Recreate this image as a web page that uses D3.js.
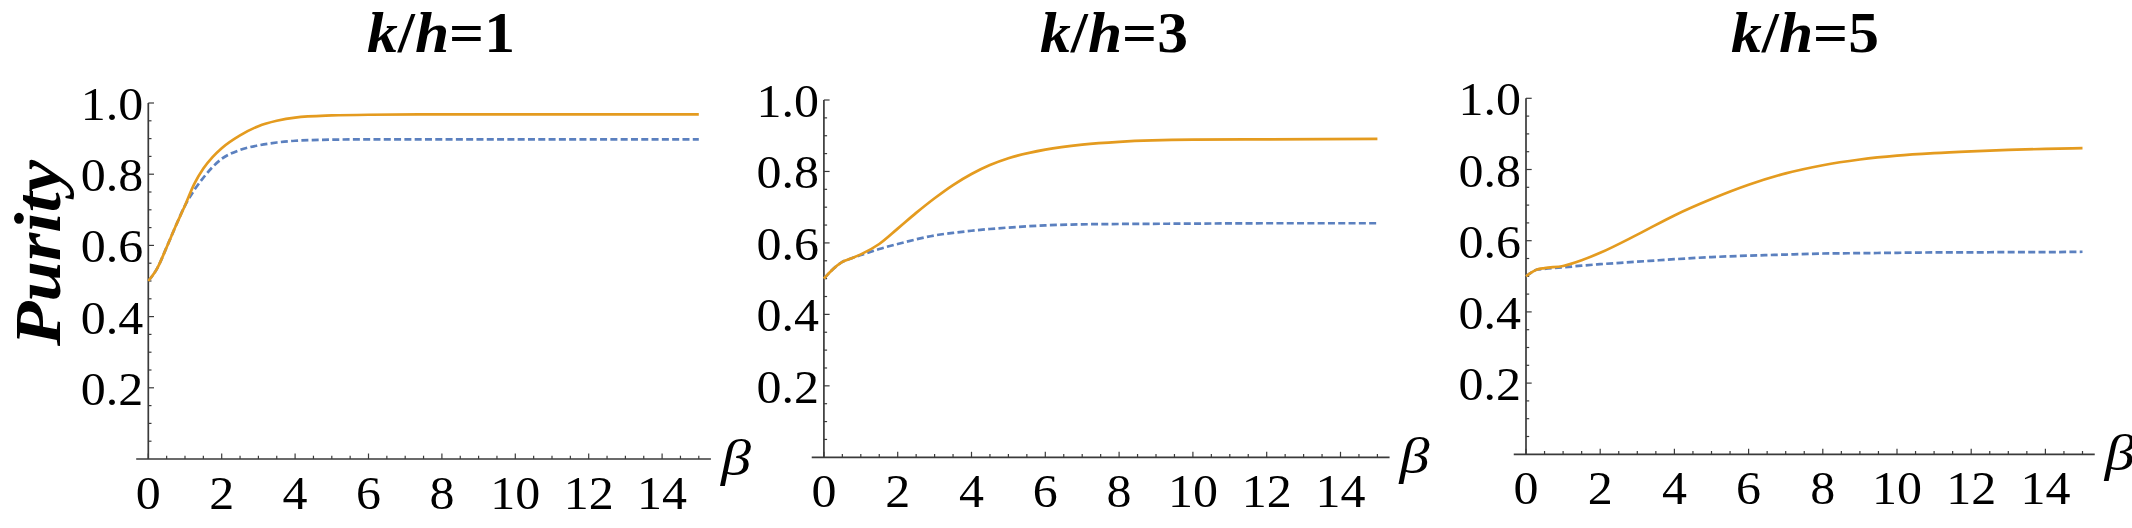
<!DOCTYPE html>
<html>
<head>
<meta charset="utf-8">
<script src="https://cdn.jsdelivr.net/npm/d3@7"></script>
<style>
  body { margin: 0; background: #fff; }
  svg { display: block; }
</style>
</head>
<body>
<svg id="chart" width="2132" height="528"></svg>
<script>
// k/h value of each panel
var khValues = [1, 3, 5];

var betaTicks = [0, 2, 4, 6, 8, 10, 12, 14];
var purityTicks = [0.2, 0.4, 0.6, 0.8, 1.0];

// k/h = 1
var betaK1 = [0, 0.25, 0.5, 0.75, 1, 1.25, 1.5, 1.75, 2, 2.5, 3, 3.5, 4, 5, 6, 8, 10, 12, 15];
var solidK1 = [0.5, 0.537, 0.595, 0.655, 0.712, 0.772, 0.816, 0.848, 0.873, 0.909, 0.935, 0.950, 0.959, 0.965, 0.967, 0.968, 0.968, 0.968, 0.968];
var dashedK1 = [0.5, 0.537, 0.595, 0.655, 0.712, 0.755, 0.790, 0.820, 0.843, 0.868, 0.881, 0.889, 0.894, 0.897, 0.898, 0.898, 0.898, 0.898, 0.898];

// k/h = 3
var betaK3 = [0, 0.25, 0.5, 0.75, 1, 1.5, 2, 2.5, 3, 3.5, 4, 4.5, 5, 6, 7, 8, 10, 12, 15];
var solidK3 = [0.5, 0.527, 0.547, 0.557, 0.568, 0.597, 0.640, 0.684, 0.725, 0.762, 0.793, 0.818, 0.837, 0.861, 0.875, 0.883, 0.889, 0.890, 0.891];
var dashedK3 = [0.5, 0.527, 0.547, 0.557, 0.566, 0.583, 0.597, 0.610, 0.621, 0.628, 0.634, 0.639, 0.643, 0.649, 0.652, 0.653, 0.654, 0.655, 0.655];

// k/h = 5
var betaK5 = [0, 0.15, 0.3, 0.5, 1, 1.5, 2, 3, 4, 5, 6, 7, 8, 9, 10, 11, 12, 13, 14, 15];
var solidK5 = [0.5, 0.511, 0.519, 0.523, 0.529, 0.545, 0.566, 0.617, 0.671, 0.717, 0.757, 0.789, 0.812, 0.828, 0.839, 0.846, 0.851, 0.855, 0.858, 0.860];
var dashedK5 = [0.5, 0.511, 0.519, 0.521, 0.525, 0.530, 0.534, 0.541, 0.548, 0.554, 0.558, 0.561, 0.564, 0.565, 0.566, 0.567, 0.567, 0.568, 0.568, 0.569];

var series = [
  { beta: betaK1, solid: solidK1, dashed: dashedK1 },
  { beta: betaK3, solid: solidK3, dashed: dashedK3 },
  { beta: betaK5, solid: solidK5, dashed: dashedK5 }
];

// panel frames (pixel layout)
var panels = [
  { x0: 148.3, x15: 698.8, y0: 459, y1: 103, titleX: 441 },
  { x0: 823.9, x15: 1377.4, y0: 457.3, y1: 100, titleX: 1114 },
  { x0: 1526, x15: 2082.5, y0: 454.3, y1: 98.3, titleX: 1805 }
];

var orange = "#E49B1F";
var blue = "#5B80BF";
var axisColor = "#3a3a3a";

// find a serif face that is really installed
function hasFont(name) {
  var ctx = document.createElement("canvas").getContext("2d");
  var probe = "mmmwwwiiilll0123456789";
  return ["monospace", "sans-serif"].some(function (base) {
    ctx.font = "40px " + base;
    var w0 = ctx.measureText(probe).width;
    ctx.font = "40px '" + name + "', " + base;
    return ctx.measureText(probe).width !== w0;
  });
}
var serifCandidates = ["Liberation Serif", "Tinos", "Times New Roman", "Times", "Nimbus Roman",
  "Nimbus Roman No9 L", "FreeSerif", "DejaVu Serif", "Noto Serif", "Noto Serif CJK SC", "Source Serif Pro", "Georgia"];
var serifFont = serifCandidates.find(hasFont);
var fontStack = (serifFont ? "'" + serifFont + "', " : "") + "serif";

// serif digits are ~half an em wide; force that width whatever face is found
function labelWidth(s, size) {
  var w = 0;
  for (var c of s) w += (c === "." ? 0.25 : 0.5) * size;
  return w;
}

var svg = d3.select("#chart").style("font-family", fontStack);
svg.append("rect").attr("width", 2132).attr("height", 528).attr("fill", "#fff");

// y-axis title
svg.append("text")
  .attr("transform", "translate(60,253) rotate(-90)")
  .attr("text-anchor", "middle")
  .attr("textLength", 186)
  .attr("lengthAdjust", "spacingAndGlyphs")
  .style("font-size", "65px")
  .style("font-weight", "bold")
  .style("font-style", "italic")
  .text("Purity");

panels.forEach(function (p, i) {
  var xScale = d3.scaleLinear().domain([0, 15]).range([p.x0, p.x15]);
  var yScale = d3.scaleLinear().domain([0, 1]).range([p.y0, p.y1]);
  var g = svg.append("g");

  // title
  var t = g.append("text")
    .attr("x", p.titleX)
    .attr("y", 52)
    .attr("text-anchor", "middle")
    .attr("textLength", 148)
    .attr("lengthAdjust", "spacingAndGlyphs")
    .style("font-size", "57px")
    .style("font-weight", "bold");
  t.append("tspan").style("font-style", "italic").text("k");
  t.append("tspan").text("/");
  t.append("tspan").style("font-style", "italic").text("h");
  t.append("tspan").text("=" + khValues[i]);

  // x axis line and ticks
  g.append("line")
    .attr("x1", xScale(-0.33)).attr("x2", xScale(15.33))
    .attr("y1", yScale(0)).attr("y2", yScale(0))
    .attr("stroke", axisColor).attr("stroke-width", 1.7);

  var xMinor = d3.range(0, 15.01, 0.5);
  g.selectAll(".xtick").data(xMinor).enter().append("line")
    .attr("x1", function (d) { return xScale(d); })
    .attr("x2", function (d) { return xScale(d); })
    .attr("y1", yScale(0))
    .attr("y2", function (d) { return yScale(0) - (d % 2 === 0 ? 5.5 : 3.3); })
    .attr("stroke", axisColor).attr("stroke-width", 1.2);

  g.selectAll(".xlabel").data(betaTicks).enter().append("text")
    .attr("x", function (d) { return xScale(d); })
    .attr("y", yScale(0) + 50)
    .attr("text-anchor", "middle")
    .attr("textLength", function (d) { return labelWidth(String(d), 50); })
    .attr("lengthAdjust", "spacingAndGlyphs")
    .style("font-size", "47px")
    .text(function (d) { return d; });

  // y axis line and ticks
  g.append("line")
    .attr("x1", xScale(0)).attr("x2", xScale(0))
    .attr("y1", yScale(0)).attr("y2", yScale(1))
    .attr("stroke", axisColor).attr("stroke-width", 1.7);

  var yMinor = d3.range(1, 21).map(function (k) { return k * 0.05; });
  g.selectAll(".ytick").data(yMinor).enter().append("line")
    .attr("x1", xScale(0))
    .attr("x2", function (d, k) { return xScale(0) + ((k + 1) % 4 === 0 ? 5.7 : 3.2); })
    .attr("y1", function (d) { return yScale(d); })
    .attr("y2", function (d) { return yScale(d); })
    .attr("stroke", axisColor).attr("stroke-width", 1.2);

  g.selectAll(".ylabel").data(purityTicks).enter().append("text")
    .attr("x", xScale(0) - 5)
    .attr("y", function (d) { return yScale(d) + 17; })
    .attr("text-anchor", "end")
    .attr("textLength", function (d) { return labelWidth(d.toFixed(1), 50); })
    .attr("lengthAdjust", "spacingAndGlyphs")
    .style("font-size", "47px")
    .text(function (d) { return d.toFixed(1); });

  // beta label
  g.append("text")
    .attr("x", xScale(15.33) + 10)
    .attr("y", yScale(0) + 16)
    .attr("textLength", 30)
    .attr("lengthAdjust", "spacingAndGlyphs")
    .style("font-size", "50px")
    .style("font-style", "italic")
    .text("\u03B2");

  // curves
  var s = series[i];
  var line = d3.line()
    .x(function (d) { return xScale(d[0]); })
    .y(function (d) { return yScale(d[1]); })
    .curve(d3.curveMonotoneX);

  g.append("path")
    .datum(d3.zip(s.beta, s.dashed))
    .attr("fill", "none")
    .attr("stroke", blue)
    .attr("stroke-width", 2.7)
    .attr("stroke-dasharray", "7,3.3")
    .attr("d", line);

  g.append("path")
    .datum(d3.zip(s.beta, s.solid))
    .attr("fill", "none")
    .attr("stroke", orange)
    .attr("stroke-width", 2.7)
    .attr("d", line);
});
</script>
</body>
</html>
